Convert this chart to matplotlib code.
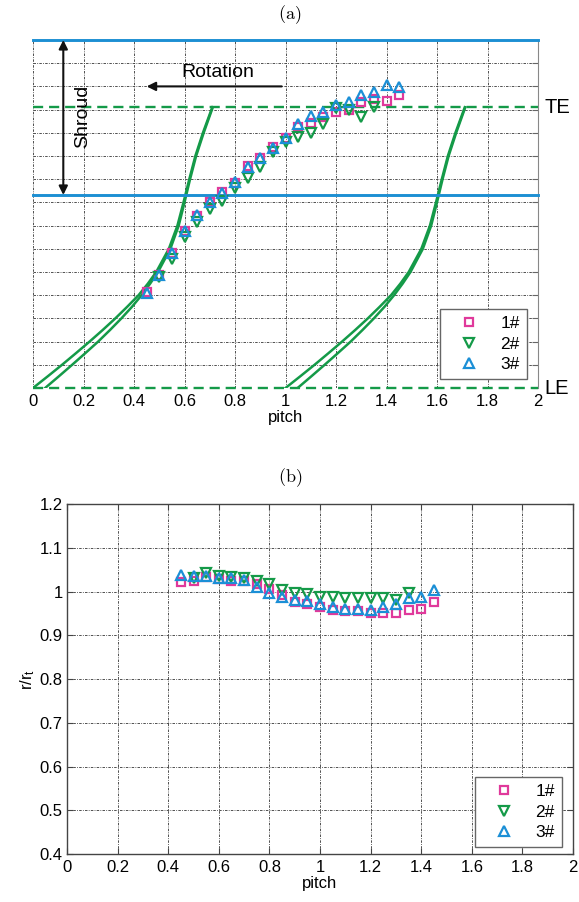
import numpy as np
import matplotlib
matplotlib.use('Agg')
import matplotlib.pyplot as plt

plt.rcParams['font.family'] = ['Liberation Sans', 'DejaVu Sans']
plt.rcParams['mathtext.default'] = 'regular'

# ---------------- data ----------------
pitch = [0.45, 0.50, 0.55, 0.60, 0.65, 0.70, 0.75, 0.80, 0.85, 0.90, 0.95,
         1.00, 1.05, 1.10, 1.15, 1.20, 1.25, 1.30, 1.35, 1.40, 1.45]
pitch2 = [0.50, 0.55, 0.60, 0.65, 0.70, 0.75, 0.80, 0.85, 0.90, 0.95,
          1.00, 1.05, 1.10, 1.15, 1.20, 1.25, 1.30, 1.35]

# panel (a): axial position (normalised) of the vortex core
top_1 = [0.414, 0.487, 0.582, 0.675, 0.742, 0.800, 0.845, 0.882, 0.957, 0.992, 1.040,
         1.076, 1.125, 1.141, 1.167, 1.191, 1.198, 1.234, 1.246, 1.238, 1.263]
top_2 = [0.478, 0.555, 0.652, 0.717, 0.770, 0.807, 0.860, 0.904, 0.954, 1.019,
         1.062, 1.083, 1.100, 1.137, 1.208, 1.198, 1.169, 1.211]
top_3 = [0.411, 0.487, 0.580, 0.677, 0.746, 0.800, 0.842, 0.889, 0.954, 0.990, 1.033,
         1.076, 1.139, 1.173, 1.191, 1.220, 1.232, 1.263, 1.277, 1.304, 1.296]

# panel (b): r / r_t
bot_1 = [1.022, 1.025, 1.034, 1.030, 1.025, 1.025, 1.017, 1.006, 0.992, 0.977, 0.972,
         0.964, 0.958, 0.956, 0.956, 0.951, 0.952, 0.952, 0.958, 0.960, 0.976]
bot_2 = [1.031, 1.042, 1.036, 1.034, 1.032, 1.025, 1.017, 1.004, 0.998, 0.994,
         0.989, 0.989, 0.985, 0.985, 0.985, 0.985, 0.981, 0.996]
bot_3 = [1.038, 1.036, 1.036, 1.032, 1.031, 1.027, 1.011, 0.998, 0.989, 0.981, 0.979,
         0.973, 0.964, 0.960, 0.960, 0.958, 0.964, 0.972, 0.985, 0.989, 1.004]

labels = ['1#', '2#', '3#']

# blade profile (two surfaces), height vs pitch
blade_y = [0, 0.05, 0.1, 0.15, 0.2, 0.25, 0.3, 0.35, 0.4, 0.45, 0.5,
           0.6, 0.7, 0.8, 0.9, 1.0, 1.1, 1.21]
blade_a = [0.000, 0.058, 0.115, 0.170, 0.224, 0.276, 0.326, 0.373, 0.418, 0.455, 0.488,
           0.538, 0.572, 0.596, 0.619, 0.643, 0.673, 0.710]
blade_b = [0.048, 0.102, 0.155, 0.207, 0.258, 0.305, 0.350, 0.392, 0.430, 0.464, 0.495,
           0.544, 0.577, 0.600, 0.622, 0.646, 0.676, 0.712]
blade_offsets = [0, 1]

y_LE, y_TE = 0.0, 1.21
y_shroud_top, y_shroud_bot = 1.5, 0.832

xticks = [0, 0.2, 0.4, 0.6, 0.8, 1.0, 1.2, 1.4, 1.6, 1.8, 2.0]
xticklabels = ['0', '0.2', '0.4', '0.6', '0.8', '1', '1.2', '1.4', '1.6', '1.8', '2']
yticks_b = [0.4, 0.5, 0.6, 0.7, 0.8, 0.9, 1.0, 1.1, 1.2]
yticklabels_b = ['0.4', '0.5', '0.6', '0.7', '0.8', '0.9', '1', '1.1', '1.2']

# ---------------- style ----------------
c1, c2, c3 = '#e0399b', '#149a48', '#1b8fd6'
cblue = '#1c8fd3'
cgreen = '#149a48'
gridkw = dict(color='#333333', linestyle=(0, (3, 1.5, 1, 1.5)), linewidth=0.6)
FS = 12

W, H = 579, 902
fig = plt.figure(figsize=(W / 100, H / 100), dpi=100)

def px_axes(l, t, r, b):
    return fig.add_axes([l / W, 1 - b / H, (r - l) / W, (b - t) / H])

def marker_plot(ax, x, y, m, c, ms, lab):
    ax.plot(x, y, m, mfc='none', mec=c, ms=ms, mew=1.6, label=lab, clip_on=False, zorder=5)

# ---------------- panel (a) ----------------
ax1 = px_axes(33, 40, 538, 388)
ax1.set_xlim(0, 2)
ax1.set_ylim(0, 1.5)
ax1.set_xticks(xticks)
ax1.set_xticklabels(xticklabels)
ax1.set_yticks(np.arange(0, 1.51, 0.1))
ax1.set_yticklabels([])
ax1.grid(True, **gridkw)
ax1.set_axisbelow(True)
for s in ['left', 'top', 'bottom']:
    ax1.spines[s].set_visible(False)
ax1.spines['right'].set_color('#888888')
ax1.tick_params(axis='both', direction='in', length=4, color='#666666',
                labelsize=FS, pad=4)
ax1.tick_params(axis='y', left=False, right=True)
ax1.tick_params(axis='x', bottom=False)

for off in blade_offsets:
    ax1.plot(np.array(blade_a) + off, blade_y, color=cgreen, lw=1.8, zorder=3)
    ax1.plot(np.array(blade_b) + off, blade_y, color=cgreen, lw=1.8, zorder=3)

for yy in (y_LE, y_TE):
    l, = ax1.plot([0, 2], [yy, yy], color=cgreen, lw=1.7, clip_on=False, zorder=3)
    l.set_dashes([4.3, 2.5])
for yy in (y_shroud_top, y_shroud_bot):
    ax1.plot([0, 2], [yy, yy], color=cblue, lw=2.1, clip_on=False, zorder=3)

marker_plot(ax1, pitch, top_1, 's', c1, 5.5, labels[0])
marker_plot(ax1, pitch2, top_2, 'v', c2, 7, labels[1])
marker_plot(ax1, pitch, top_3, '^', c3, 7, labels[2])

ax1.text(2.025, y_TE, 'TE', ha='left', va='center', fontsize=14.5)
ax1.text(2.025, y_LE, 'LE', ha='left', va='center', fontsize=14.5)

ax1.annotate('', xy=(0.12, y_shroud_top), xytext=(0.12, y_shroud_bot),
             arrowprops=dict(arrowstyle='<|-|>', color='#111111', lw=1.5,
                             mutation_scale=13, shrinkA=0, shrinkB=0), zorder=6)
ax1.text(0.195, 1.17, 'Shroud', rotation=90, ha='center', va='center', fontsize=14)
ax1.annotate('', xy=(0.45, 1.3), xytext=(0.985, 1.3),
             arrowprops=dict(arrowstyle='-|>', color='#111111', lw=1.5,
                             mutation_scale=13, shrinkA=0, shrinkB=0), zorder=6)
ax1.text(0.73, 1.36, 'Rotation', ha='center', va='center', fontsize=14)

ax1.set_xlabel('pitch', fontsize=FS, labelpad=1)

leg1 = ax1.legend(loc='lower right', bbox_to_anchor=(0.978, 0.026), fontsize=12.5,
                  frameon=True, fancybox=False, edgecolor='#666666', framealpha=1,
                  handlelength=2.6, handletextpad=0.5, labelspacing=0.3,
                  borderpad=0.4, borderaxespad=0)
leg1.get_frame().set_linewidth(1.0)

fig.text(290 / W, 1 - 15 / H, r'$\mathrm{(a)}$', math_fontfamily='cm',
         ha='center', va='center', fontsize=13)

# ---------------- panel (b) ----------------
ax2 = px_axes(67, 504.3, 573, 854)
ax2.set_xlim(0, 2)
ax2.set_ylim(0.4, 1.2)
ax2.set_xticks(xticks)
ax2.set_xticklabels(xticklabels)
ax2.set_yticks(yticks_b)
ax2.set_yticklabels(yticklabels_b)
ax2.grid(True, **gridkw)
ax2.set_axisbelow(True)
for s in ax2.spines.values():
    s.set_color('#444444')
    s.set_linewidth(1.0)
ax2.tick_params(axis='both', direction='in', length=4, color='#444444',
                labelsize=FS, top=True, right=True)
ax2.tick_params(axis='x', pad=4)
ax2.tick_params(axis='y', pad=3)

marker_plot(ax2, pitch, bot_1, 's', c1, 5.5, labels[0])
marker_plot(ax2, pitch2, bot_2, 'v', c2, 7, labels[1])
marker_plot(ax2, pitch, bot_3, '^', c3, 7, labels[2])

ax2.set_xlabel('pitch', fontsize=FS, labelpad=1)
ax2.set_ylabel('r/r$_t$', fontsize=FS, labelpad=2)

leg2 = ax2.legend(loc='lower right', bbox_to_anchor=(0.978, 0.02), fontsize=12.5,
                  frameon=True, fancybox=False, edgecolor='#666666', framealpha=1,
                  handlelength=2.6, handletextpad=0.5, labelspacing=0.3,
                  borderpad=0.4, borderaxespad=0)
leg2.get_frame().set_linewidth(1.0)

fig.text(290 / W, 1 - 478 / H, r'$\mathrm{(b)}$', math_fontfamily='cm',
         ha='center', va='center', fontsize=13)

fig.savefig('out.png', dpi=100)
